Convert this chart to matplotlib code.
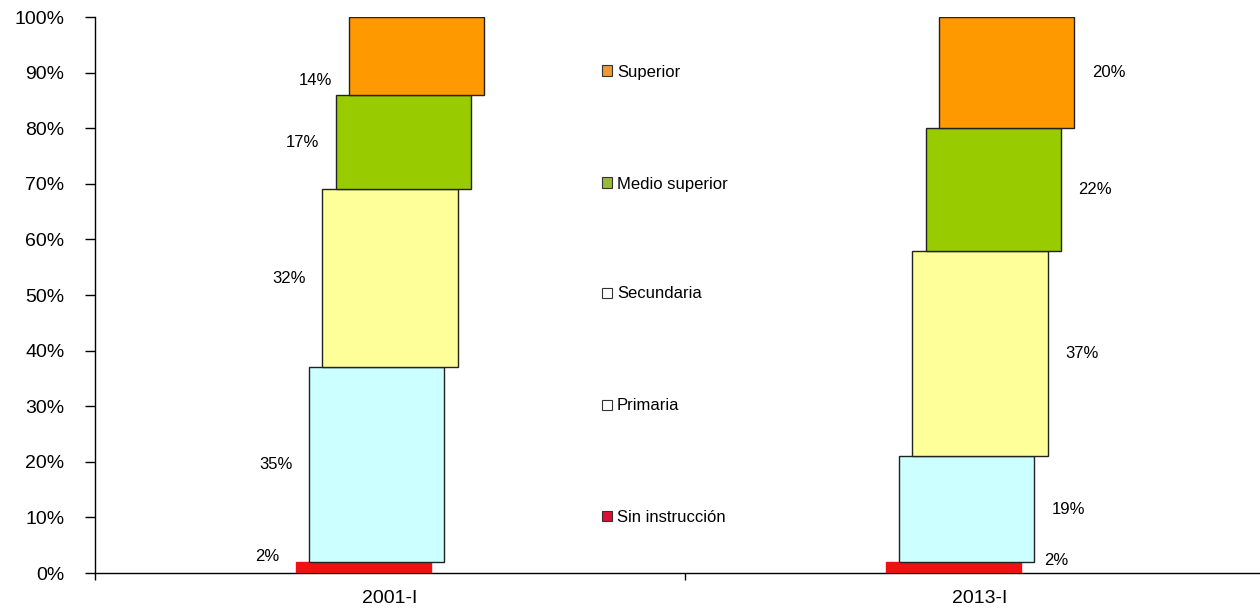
import matplotlib
matplotlib.use("Agg")
import matplotlib.pyplot as plt
from matplotlib.patches import Rectangle
from matplotlib.ticker import FuncFormatter

plt.rcParams['font.family'] = ['Liberation Sans', 'DejaVu Sans']

periods = ["2001-I", "2013-I"]
levels = ["Sin instrucción", "Primaria", "Secundaria", "Medio superior", "Superior"]
values_2001 = [2, 35, 32, 17, 14]
values_2013 = [2, 19, 37, 22, 20]
colors = ["#EE1111", "#CCFFFF", "#FFFF99", "#99CC00", "#FF9900"]
edge_colors = ["#EE1111", "#222222", "#222222", "#222222", "#222222"]
legend_colors = ["#DD1133", "#FFFFFF", "#FFFFFF", "#99BB33", "#EE9933"]

W, H = 1260, 616
fig = plt.figure(figsize=(W / 100, H / 100), dpi=100)
ax_left, ax_bottom, ax_top = 95, 573, 17
ax = fig.add_axes([ax_left / W, (H - ax_bottom) / H, (W - ax_left) / W, (ax_bottom - ax_top) / H])
ax.set_xlim(0, (W - ax_left) / 590)
ax.set_ylim(0, 100)

centers = [0.5, 1.5]
bar_w = 0.229
step = 0.0225
offsets = [-2, -1, 0, 1, 2]
series = [values_2001, values_2013]

# label tweaks (vertical shift in % units) for readability as in reference
lab_dy = {
    0: [2.0, 0, 0, 0, -4.5],
    1: [1.3, 0, 0, 0, 0],
}

for ci, (c, vals) in enumerate(zip(centers, series)):
    bottom = 0
    for li, v in enumerate(vals):
        x = c + offsets[li] * step
        ax.bar(x, v, width=bar_w, bottom=bottom, color=colors[li],
               edgecolor=edge_colors[li], linewidth=1.0, zorder=3)
        ymid = bottom + v / 2 + lab_dy[ci][li]
        if ci == 0:
            ax.text(x - bar_w / 2 - 0.028, ymid, f"{v}%", ha="right", va="center", fontsize=12)
        else:
            gap = 0.04 if li == 0 else 0.03
            ax.text(x + bar_w / 2 + gap, ymid, f"{v}%", ha="left", va="center", fontsize=12)
        bottom += v

# axes styling
for s in ["top", "right"]:
    ax.spines[s].set_visible(False)
ax.spines["left"].set_linewidth(1.0)
ax.spines["bottom"].set_linewidth(1.0)
ax.set_yticks(range(0, 101, 10))
ax.yaxis.set_major_formatter(FuncFormatter(lambda v, p: f"{int(v)}%"))
ax.tick_params(axis="y", length=7, width=1, labelsize=14, pad=15)
ax.set_xticks([0, 1])
ax.set_xticklabels(["", ""])
ax.tick_params(axis="x", which="major", length=5, width=1)
ax.set_xticks(centers, minor=True)
ax.set_xticklabels(periods, minor=True)
ax.tick_params(axis="x", which="minor", length=0, labelsize=14, pad=12)

# legend (manual, spread vertically)
legend_y = [517, 406, 294, 184, 72]
for li in range(len(levels)):
    yp = legend_y[li]
    fig.patches.append(Rectangle((602 / W, (H - yp - 3.5) / H), 10 / W, 10 / H,
                                 transform=fig.transFigure, facecolor=legend_colors[li],
                                 edgecolor="#333333", linewidth=0.8))
    fig.text(617 / W, (H - yp) / H, levels[li], ha="left", va="center", fontsize=12)

fig.savefig("out.png", dpi=100, facecolor="white")
